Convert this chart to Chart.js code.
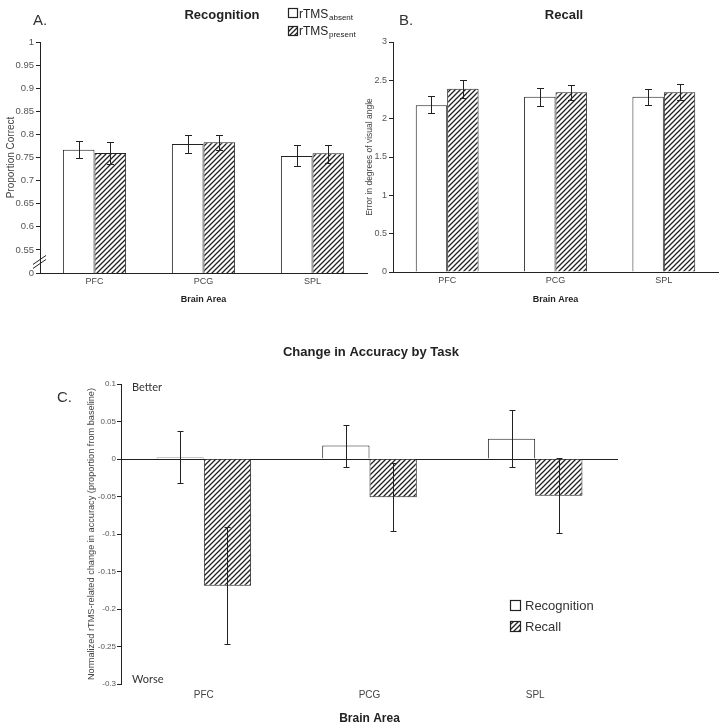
<!DOCTYPE html>
<html>
<head>
<meta charset="utf-8">
<script src="https://cdn.jsdelivr.net/npm/chart.js@4.4.0/dist/chart.umd.min.js"></script>
<style>
  body { margin: 0; background: #fff; width: 724px; height: 728px; position: relative; overflow: hidden; }
  canvas { position: absolute; }
  #chartA { left: 0; top: 0; }
  #chartB { left: 350px; top: 0; }
  #chartC { left: 0; top: 330px; }
</style>
</head>
<body>
<canvas id="chartA" width="370" height="310"></canvas>
<canvas id="chartB" width="374" height="310"></canvas>
<canvas id="chartC" width="724" height="398"></canvas>
<script>
// categories
var areas = ['PFC', 'PCG', 'SPL'];

// A. Recognition (proportion correct)
var recogAbsent = [0.767, 0.779, 0.753];
var recogAbsentLo = [0.748, 0.759, 0.731];
var recogAbsentHi = [0.786, 0.799, 0.776];
var recogPresent = [0.760, 0.783, 0.759];
var recogPresentLo = [0.737, 0.767, 0.739];
var recogPresentHi = [0.783, 0.799, 0.778];

// B. Recall (error in degrees)
var recallAbsent = [2.176, 2.285, 2.285];
var recallAbsentLo = [2.069, 2.168, 2.176];
var recallAbsentHi = [2.293, 2.396, 2.389];
var recallPresent = [2.389, 2.345, 2.345];
var recallPresentLo = [2.276, 2.241, 2.237];
var recallPresentHi = [2.505, 2.440, 2.453];

// C. Change in accuracy by task
var changeRecog = [0.002, 0.018, 0.027];
var changeRecogLo = [-0.032, -0.010, -0.010];
var changeRecogHi = [0.037, 0.046, 0.065];
var changeRecall = [-0.169, -0.051, -0.049];
var changeRecallLo = [-0.247, -0.096, -0.099];
var changeRecallHi = [-0.091, -0.005, 0.001];

var FONT = 'Liberation Sans, Arial, sans-serif';
Chart.defaults.font.family = FONT;
Chart.defaults.color = '#444';

function hatch(canvas) {
    var c = document.createElement('canvas');
    c.width = 5; c.height = 5;
    var g = c.getContext('2d');
    g.fillStyle = '#fff';
    g.fillRect(0, 0, 5, 5);
    g.strokeStyle = '#222';
    g.lineWidth = 1.3;
    g.beginPath();
    g.moveTo(0, 5); g.lineTo(5, 0);
    g.moveTo(-1, 1); g.lineTo(1, -1);
    g.moveTo(4, 6); g.lineTo(6, 4);
    g.stroke();
    return canvas.getContext('2d').createPattern(c, 'repeat');
}

function fmt(v) {
    return String(parseFloat(v.toFixed(2)));
}

var errorBars = {
    id: 'errorBars',
    afterDatasetsDraw: function (chart, args, opts) {
        var ctx = chart.ctx, ys = chart.scales.y;
        ctx.save();
        ctx.strokeStyle = '#222';
        ctx.lineWidth = 1;
        opts.ranges.forEach(function (r, di) {
            chart.getDatasetMeta(di).data.forEach(function (bar, i) {
                var x = Math.round(bar.x) + 0.5;
                var y1 = Math.round(ys.getPixelForValue(r[0][i])) + 0.5;
                var y2 = Math.round(ys.getPixelForValue(r[1][i])) + 0.5;
                ctx.beginPath();
                ctx.moveTo(x, y1); ctx.lineTo(x, y2);
                ctx.moveTo(x - opts.cap, y1); ctx.lineTo(x + opts.cap, y1);
                ctx.moveTo(x - opts.cap, y2); ctx.lineTo(x + opts.cap, y2);
                ctx.stroke();
            });
        });
        ctx.restore();
    }
};

// free text, legend boxes and the axis break
var notes = {
    id: 'notes',
    afterDraw: function (chart, args, opts) {
        var ctx = chart.ctx;
        ctx.save();
        (opts.texts || []).forEach(function (t) {
            ctx.font = t.f;
            ctx.fillStyle = t.c || '#222';
            ctx.textAlign = t.a || 'left';
            ctx.textBaseline = t.b || 'middle';
            ctx.fillText(t.t, t.x, t.y);
        });
        (opts.boxes || []).forEach(function (b) {
            ctx.fillStyle = b.hatched ? hatch(chart.canvas) : '#fff';
            ctx.fillRect(b.x, b.y, b.w, b.h);
            ctx.strokeStyle = '#222';
            ctx.lineWidth = 1.2;
            ctx.strokeRect(b.x + 0.5, b.y + 0.5, b.w, b.h);
        });
        if (opts.brk) {
            var x0 = chart.scales.y.right;
            var ym = chart.scales.y.getPixelForValue(0.525);
            ctx.strokeStyle = '#222';
            ctx.lineWidth = 1;
            ctx.beginPath();
            ctx.moveTo(x0 - 7, ym + 3); ctx.lineTo(x0 + 6, ym - 6);
            ctx.moveTo(x0 - 7, ym + 7); ctx.lineTo(x0 + 6, ym - 2);
            ctx.stroke();
        }
        ctx.restore();
    }
};

function yScale(min, max, step, width, title, tfont, tpad, labelFn, tickSize) {
    return {
        min: min, max: max,
        ticks: { stepSize: step, callback: labelFn, color: '#555', font: { size: tickSize }, padding: 2 },
        grid: { drawOnChartArea: false, tickLength: 4, color: '#222' },
        border: { color: '#222', width: 1 },
        title: { display: true, text: title, color: '#444', font: { size: tfont }, padding: { top: tpad, bottom: 0 } },
        afterFit: function (s) { s.width = width; }
    };
}

function xScale(height, tsize, tpad, titleSize, titlePad, showBorder) {
    return {
        offset: true,
        grid: { display: false, drawTicks: false, tickLength: 0 },
        border: { display: showBorder, color: '#222', width: 1 },
        ticks: { color: '#444', font: { size: tsize }, padding: tpad },
        title: { display: true, text: 'Brain Area', color: '#222', font: { size: titleSize, weight: 'bold' }, padding: { top: 0, bottom: titlePad } },
        afterFit: function (s) { s.height = height; }
    };
}

var cA = document.getElementById('chartA');
new Chart(cA, {
    type: 'bar',
    data: {
        labels: areas,
        datasets: [
            { label: 'rTMS absent', data: recogAbsent, backgroundColor: '#fff', borderColor: '#222', borderWidth: 1 },
            { label: 'rTMS present', data: recogPresent, backgroundColor: hatch(cA), borderColor: '#222', borderWidth: 1 }
        ]
    },
    options: {
        responsive: false,
        animation: false,
        layout: { padding: { top: 42, right: 3, left: 0, bottom: 0 } },
        datasets: { bar: { categoryPercentage: 0.58, barPercentage: 1 } },
        scales: {
            x: xScale(37, 9, 3, 9, 4.6, true),
            y: yScale(0.5, 1, 0.05, 40, 'Proportion Correct', 10, 5,
                function (v) { return v === 0.5 ? '0' : fmt(v); }, 9.5)
        },
        plugins: {
            legend: { display: false },
            tooltip: { enabled: false },
            errorBars: { cap: 3.5, ranges: [[recogAbsentLo, recogAbsentHi], [recogPresentLo, recogPresentHi]] },
            notes: {
                brk: true,
                texts: [
                    { t: 'A.', x: 33, y: 21, f: '15px ' + FONT, c: '#333' },
                    { t: 'Recognition', x: 222, y: 15, a: 'center', f: 'bold 13px ' + FONT },
                    { t: 'rTMS', x: 299, y: 17.5, b: 'alphabetic', f: '12px ' + FONT },
                    { t: 'absent', x: 329, y: 19.5, b: 'alphabetic', f: '8px ' + FONT },
                    { t: 'rTMS', x: 299, y: 35, b: 'alphabetic', f: '12px ' + FONT },
                    { t: 'present', x: 329, y: 37, b: 'alphabetic', f: '8px ' + FONT }
                ],
                boxes: [
                    { x: 288, y: 8, w: 9, h: 9, hatched: false },
                    { x: 288, y: 26, w: 9, h: 9, hatched: true }
                ]
            }
        }
    },
    plugins: [errorBars, notes]
});

var cB = document.getElementById('chartB');
new Chart(cB, {
    type: 'bar',
    data: {
        labels: areas,
        datasets: [
            { label: 'rTMS absent', data: recallAbsent, backgroundColor: '#fff', borderColor: '#222', borderWidth: 1 },
            { label: 'rTMS present', data: recallPresent, backgroundColor: hatch(cB), borderColor: '#222', borderWidth: 1 }
        ]
    },
    options: {
        responsive: false,
        animation: false,
        layout: { padding: { top: 42, right: 6, left: 0, bottom: 0 } },
        datasets: { bar: { categoryPercentage: 0.58, barPercentage: 1 } },
        scales: {
            x: xScale(38, 9, 3, 9, 4.6, true),
            y: yScale(0, 3, 0.5, 43, 'Error in degrees of visual angle', 8.5, 15, fmt, 9)
        },
        plugins: {
            legend: { display: false },
            tooltip: { enabled: false },
            errorBars: { cap: 3.5, ranges: [[recallAbsentLo, recallAbsentHi], [recallPresentLo, recallPresentHi]] },
            notes: {
                texts: [
                    { t: 'B.', x: 49, y: 21, f: '15px ' + FONT, c: '#333' },
                    { t: 'Recall', x: 214, y: 15, a: 'center', f: 'bold 13px ' + FONT }
                ]
            }
        }
    },
    plugins: [errorBars, notes]
});

var cC = document.getElementById('chartC');
new Chart(cC, {
    type: 'bar',
    data: {
        labels: areas,
        datasets: [
            { label: 'Recognition', data: changeRecog, backgroundColor: '#fff', borderColor: '#222', borderWidth: 1 },
            { label: 'Recall', data: changeRecall, backgroundColor: hatch(cC), borderColor: '#222', borderWidth: 1 }
        ]
    },
    options: {
        responsive: false,
        animation: false,
        layout: { padding: { top: 54, right: 106, left: 0, bottom: 0 } },
        datasets: { bar: { categoryPercentage: 0.571, barPercentage: 1 } },
        scales: {
            x: xScale(44, 10, 5, 12, 1.8, false),
            y: (function () {
                var s = yScale(-0.3, 0.1, 0.05, 121,
                    'Normalized rTMS-related change in accuracy (proportion from baseline)', 9.2, 86, fmt, 8);
                s.grid = {
                    drawOnChartArea: true, tickLength: 4, tickColor: '#222',
                    color: function (c) { return c.tick && c.tick.value === 0 ? '#222' : 'rgba(0,0,0,0)'; }
                };
                s.ticks.padding = 1;
                return s;
            })()
        },
        plugins: {
            legend: { display: false },
            tooltip: { enabled: false },
            errorBars: { cap: 3, ranges: [[changeRecogLo, changeRecogHi], [changeRecallLo, changeRecallHi]] },
            notes: {
                texts: [
                    { t: 'C.', x: 57, y: 68, f: '15px ' + FONT, c: '#333' },
                    { t: 'Change in Accuracy by Task', x: 371, y: 22, a: 'center', f: 'bold 13px ' + FONT },
                    { t: 'Better', x: 132, y: 57, f: '11px Lato, ' + FONT, c: '#333' },
                    { t: 'Worse', x: 132, y: 349, f: '11px Lato, ' + FONT, c: '#333' },
                    { t: 'Recognition', x: 525, y: 276.5, f: '13px ' + FONT, c: '#333' },
                    { t: 'Recall', x: 525, y: 297.5, f: '13px ' + FONT, c: '#333' }
                ],
                boxes: [
                    { x: 510, y: 270, w: 10, h: 10, hatched: false },
                    { x: 510, y: 291, w: 10, h: 10, hatched: true }
                ]
            }
        }
    },
    plugins: [errorBars, notes]
});
</script>
</body>
</html>
